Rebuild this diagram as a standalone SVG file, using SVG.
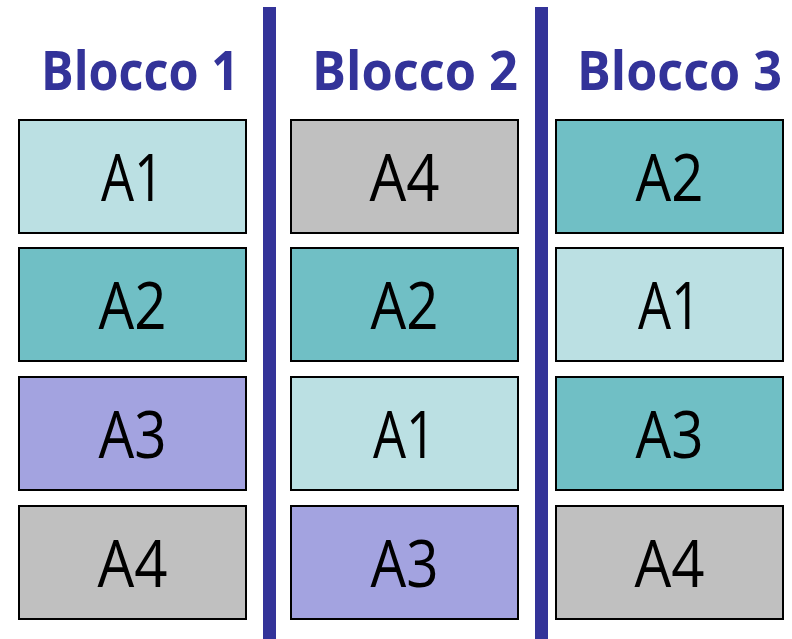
<svg xmlns="http://www.w3.org/2000/svg" width="792" height="639" viewBox="0 0 792 639">
<style>
.bar{fill:#333399}
.title{font-family:"Open Sans","DejaVu Sans",sans-serif;font-weight:bold;font-size:53px;fill:#333399;text-anchor:end}
.box{stroke:#000;stroke-width:2}
.lbl{font-family:"Open Sans","Liberation Sans",sans-serif;font-size:65px;fill:#000;text-anchor:middle}
.c1{fill:#BBE0E3}.c2{fill:#70BFC5}.c3{fill:#A3A3E0}.c4{fill:#C0C0C0}
</style>
<rect width="792" height="639" fill="#fff"/>
<g id="dividers">
<rect class="bar" x="263" y="7" width="13" height="632"/>
<rect class="bar" x="535" y="7" width="13" height="632"/>
</g>
<g id="titles">
<text class="title" x="239" y="90" textLength="198" lengthAdjust="spacingAndGlyphs">Blocco 1</text>
<text class="title" x="518" y="90" textLength="206" lengthAdjust="spacingAndGlyphs">Blocco 2</text>
<text class="title" x="782" y="90" textLength="205" lengthAdjust="spacingAndGlyphs">Blocco 3</text>
</g>
<g id="b1-a1"><rect class="box c1" x="19" y="120" width="227" height="113"/><text class="lbl" x="132.5" y="201" textLength="63" lengthAdjust="spacingAndGlyphs">A1</text></g>
<g id="b1-a2"><rect class="box c2" x="19" y="248" width="227" height="113"/><text class="lbl" x="132.5" y="329" textLength="68" lengthAdjust="spacingAndGlyphs">A2</text></g>
<g id="b1-a3"><rect class="box c3" x="19" y="377" width="227" height="113"/><text class="lbl" x="132.5" y="458" textLength="68" lengthAdjust="spacingAndGlyphs">A3</text></g>
<g id="b1-a4"><rect class="box c4" x="19" y="506" width="227" height="113"/><text class="lbl" x="132.5" y="587" textLength="70" lengthAdjust="spacingAndGlyphs">A4</text></g>
<g id="b2-a4"><rect class="box c4" x="291" y="120" width="227" height="113"/><text class="lbl" x="404.5" y="201" textLength="70" lengthAdjust="spacingAndGlyphs">A4</text></g>
<g id="b2-a2"><rect class="box c2" x="291" y="248" width="227" height="113"/><text class="lbl" x="404.5" y="329" textLength="68" lengthAdjust="spacingAndGlyphs">A2</text></g>
<g id="b2-a1"><rect class="box c1" x="291" y="377" width="227" height="113"/><text class="lbl" x="404.5" y="458" textLength="63" lengthAdjust="spacingAndGlyphs">A1</text></g>
<g id="b2-a3"><rect class="box c3" x="291" y="506" width="227" height="113"/><text class="lbl" x="404.5" y="587" textLength="68" lengthAdjust="spacingAndGlyphs">A3</text></g>
<g id="b3-a2"><rect class="box c2" x="556" y="120" width="227" height="113"/><text class="lbl" x="669.5" y="201" textLength="68" lengthAdjust="spacingAndGlyphs">A2</text></g>
<g id="b3-a1"><rect class="box c1" x="556" y="248" width="227" height="113"/><text class="lbl" x="669.5" y="329" textLength="63" lengthAdjust="spacingAndGlyphs">A1</text></g>
<g id="b3-a3"><rect class="box c2" x="556" y="377" width="227" height="113"/><text class="lbl" x="669.5" y="458" textLength="68" lengthAdjust="spacingAndGlyphs">A3</text></g>
<g id="b3-a4"><rect class="box c4" x="556" y="506" width="227" height="113"/><text class="lbl" x="669.5" y="587" textLength="70" lengthAdjust="spacingAndGlyphs">A4</text></g>
</svg>
